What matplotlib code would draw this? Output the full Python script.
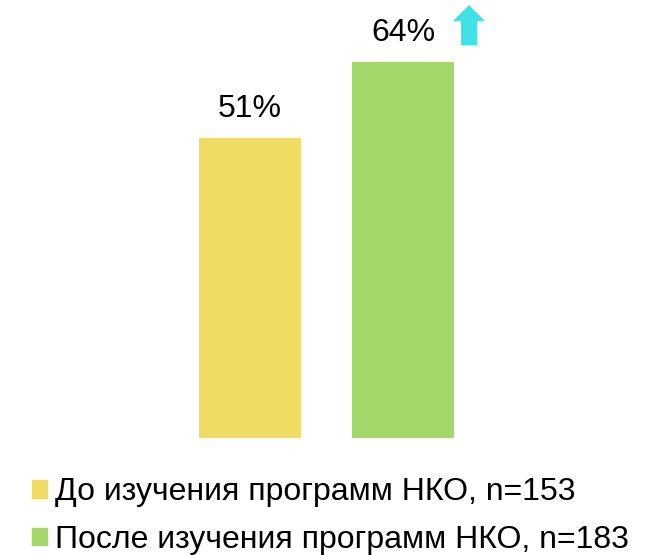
import matplotlib
matplotlib.use("Agg")
import matplotlib.pyplot as plt
from matplotlib.patches import Patch, FancyArrow

plt.rcParams['font.family'] = ['Liberation Sans', 'DejaVu Sans']

categories = ["До изучения программ НКО, n=153", "После изучения программ НКО, n=183"]
values = [51, 64]
colors = ["#F0DC64", "#A3D76A"]
arrow_color = "#40E2E8"

fig = plt.figure(figsize=(6.52, 5.55), dpi=100)
ax = fig.add_axes([0, 117 / 555, 1, 438 / 555])

x = list(range(len(values)))
bars = ax.bar(x, values, width=0.667, color=colors)
for xi, v in zip(x, values):
    ax.annotate(f"{v}%", (xi, v), xytext=(0, 10), textcoords="offset points",
                ha="center", va="bottom", fontsize=23)

ax.set_xlim(-1.634, 2.627)
ax.set_ylim(0, 74.46)
ax.axis("off")

# upward arrow next to the second value
arr = FancyArrow(1.431, values[1] + 2.8, 0, 6.8, width=0.105, head_width=0.209,
                 head_length=2.7, length_includes_head=True, color=arrow_color,
                 linewidth=0, clip_on=False)
ax.add_patch(arr)

handles = [Patch(color=c, label=l) for c, l in zip(colors, categories)]
fig.legend(handles=handles, loc="upper left", bbox_to_anchor=(0.049, 0.140),
           bbox_transform=fig.transFigure, frameon=False, fontsize=23,
           handlelength=0.47, handleheight=0.47, handletextpad=0.25,
           labelspacing=0.55, borderaxespad=0, borderpad=0)

fig.savefig("out.png", dpi=100)
